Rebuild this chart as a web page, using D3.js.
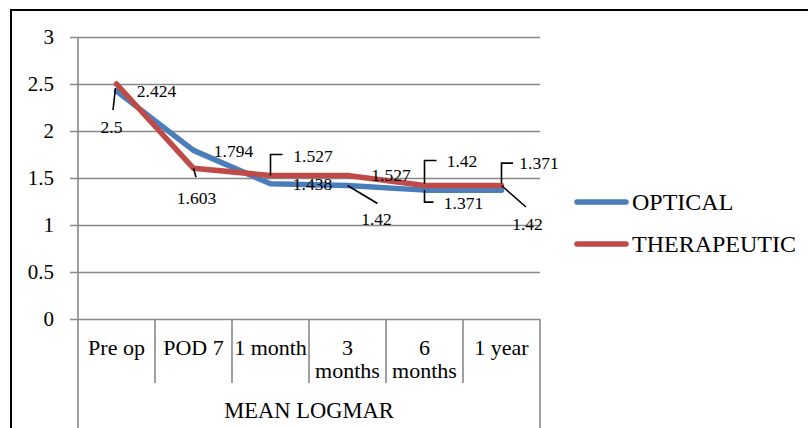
<!DOCTYPE html>
<html>
<head>
<meta charset="utf-8">
<script src="https://cdn.jsdelivr.net/npm/d3@7/dist/d3.min.js"></script>
<style>
  html, body { margin: 0; padding: 0; background: #fff; }
  svg { display: block; font-family: "Liberation Serif", "Times New Roman", serif; }
</style>
</head>
<body>
<svg id="chart" width="808" height="428"></svg>
<script>
// Mean LogMAR over follow-up visits
const categories = ["Pre op", "POD 7", "1 month", "3 months", "6 months", "1 year"];
const categoryLines = [["Pre op"], ["POD 7"], ["1 month"], ["3", "months"], ["6", "months"], ["1 year"]];
const opticalValues = [2.424, 1.794, 1.438, 1.42, 1.371, 1.371];
const therapeuticValues = [2.5, 1.603, 1.527, 1.527, 1.42, 1.42];
const yTicks = [0, 0.5, 1, 1.5, 2, 2.5, 3];
const axisTitle = "MEAN LOGMAR";

// Data-label placement: text offset from its point and leader polyline (pixels)
const opticalLabelLayout = [
  { dx: 40, dy: 0, leader: null },
  { dx: 40, dy: 1, leader: null },
  { dx: 42, dy: 0, leader: null },
  { dx: 29, dy: 33, leader: [[0, 0], [30, 18]] },
  { dx: 39, dy: 13, leader: [[0, 0], [0, 12], [9, 12]] },
  { dx: 37.5, dy: -27.5, leader: [[0, -7], [0, -27], [11.5, -27]] }
];
const therapeuticLabelLayout = [
  { dx: -5, dy: 42.5, leader: [[-1, 4], [-3.5, 26]] },
  { dx: 3, dy: 30, leader: [[0, 0], [2.5, 9]] },
  { dx: 42.5, dy: -19, leader: [[0, 0], [0, -21], [12, -21]] },
  { dx: 43.5, dy: 0, leader: null },
  { dx: 37.5, dy: -24.5, leader: [[0, -2], [0, -25], [12, -25]] },
  { dx: 26, dy: 38, leader: [[0, 0], [24.5, 21.5]] }
];

const series = [
  { name: "OPTICAL", values: opticalValues, color: "#4A7EBB", labels: opticalLabelLayout },
  { name: "THERAPEUTIC", values: therapeuticValues, color: "#BE4B48", labels: therapeuticLabelLayout }
];

const svg = d3.select("#chart");
const plot = { left: 78, right: 540, top: 37, bottom: 319 };
const gridColor = "#888888";

// outer frame (extends past the right and bottom edges)
svg.append("rect")
  .attr("x", 11).attr("y", 10)
  .attr("width", 820).attr("height", 440)
  .attr("fill", "none").attr("stroke", "#000").attr("stroke-width", 2);

const x = d3.scaleBand().domain(categories).range([plot.left, plot.right]).padding(0);
const y = d3.scaleLinear().domain([0, 3]).range([plot.bottom, plot.top]);

// value axis with gridlines
const yAxis = d3.axisLeft(y)
  .tickValues(yTicks)
  .tickFormat(d3.format("~g"))
  .tickSizeInner(-(plot.right - plot.left + 8))
  .tickSizeOuter(0)
  .tickPadding(16);
const gy = svg.append("g").attr("transform", `translate(${plot.left - 8},0)`).call(yAxis);
gy.select(".domain").remove();
gy.selectAll(".tick line").attr("stroke", gridColor).attr("stroke-width", 1.6);
gy.selectAll(".tick text")
  .attr("fill", "#000")
  .style("font-size", "21px")
  .style("font-family", "Liberation Serif");

// vertical axis line
svg.append("line")
  .attr("x1", plot.left).attr("x2", plot.left)
  .attr("y1", plot.top).attr("y2", 428)
  .attr("stroke", gridColor).attr("stroke-width", 1.6);

// category separators
const bounds = categories.map(c => x(c)).concat([plot.right]);
svg.append("g").selectAll("line")
  .data(bounds.slice(1))
  .join("line")
  .attr("x1", d => d).attr("x2", d => d)
  .attr("y1", plot.bottom)
  .attr("y2", (d, i) => i === bounds.length - 2 ? 428 : 383)
  .attr("stroke", gridColor).attr("stroke-width", 1.6);

// category labels
const catG = svg.append("g").style("font-size", "22px");
categories.forEach((c, i) => {
  const t = catG.append("text")
    .attr("x", x(c) + x.bandwidth() / 2)
    .attr("y", 355)
    .attr("text-anchor", "middle")
    .attr("fill", "#000");
  categoryLines[i].forEach((line, j) => {
    t.append("tspan")
      .attr("x", x(c) + x.bandwidth() / 2)
      .attr("dy", j === 0 ? 0 : 23)
      .text(line);
  });
});

svg.append("text")
  .attr("x", (plot.left + plot.right) / 2)
  .attr("y", 418)
  .attr("text-anchor", "middle")
  .style("font-size", "22.5px")
  .attr("fill", "#000")
  .text(axisTitle);

// series lines
const cx = c => x(c) + x.bandwidth() / 2;
const line = d3.line().x((d, i) => cx(categories[i])).y(d => y(d));
series.forEach(s => {
  svg.append("path")
    .datum(s.values)
    .attr("d", line)
    .attr("fill", "none")
    .attr("stroke", s.color)
    .attr("stroke-width", 5.5)
    .attr("stroke-linejoin", "round")
    .attr("stroke-linecap", "round");
});

// data labels with leader lines
series.forEach(s => {
  s.values.forEach((v, i) => {
    const px = cx(categories[i]), py = y(v);
    const lay = s.labels[i];
    if (lay.leader) {
      svg.append("polyline")
        .attr("points", lay.leader.map(p => `${px + p[0]},${py + p[1]}`).join(" "))
        .attr("fill", "none")
        .attr("stroke", "#000")
        .attr("stroke-width", 1.6);
    }
    svg.append("text")
      .attr("x", px + lay.dx)
      .attr("y", py + lay.dy)
      .attr("text-anchor", "middle")
      .attr("dominant-baseline", "central")
      .style("font-size", "17.5px")
      .attr("fill", "#000")
      .text(v);
  });
});

// legend
const legend = svg.append("g");
series.forEach((s, i) => {
  const ly = 202 + i * 42;
  legend.append("line")
    .attr("x1", 577).attr("x2", 626)
    .attr("y1", ly).attr("y2", ly)
    .attr("stroke", s.color)
    .attr("stroke-width", 5.5)
    .attr("stroke-linecap", "round");
  legend.append("text")
    .attr("x", 632)
    .attr("y", ly)
    .attr("dominant-baseline", "central")
    .style("font-size", "24px")
    .attr("fill", "#000")
    .text(s.name);
});
</script>
</body>
</html>
